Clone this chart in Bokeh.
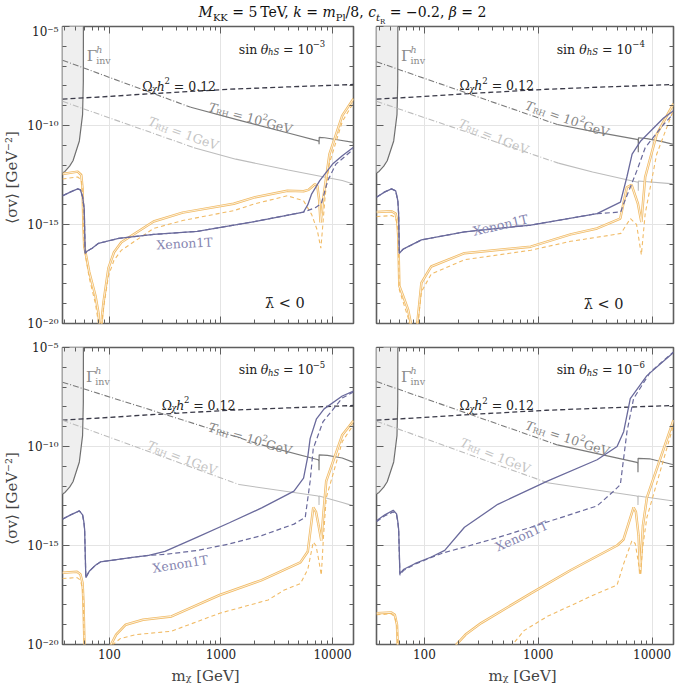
import math
import numpy as np
from bokeh.plotting import figure
from bokeh.models import FixedTicker, LogAxis, CustomJSTickFormatter, Div
from bokeh.layouts import column, row
from bokeh.embed import file_html
from bokeh.resources import INLINE
from bokeh.core.properties import value

# ---------------- data (masses in GeV, cross sections as log10 of <sigma v> in GeV^-2) -------------
XMIN, XMAX = 38.0, 15400.0
YMIN, YMAX = 1e-20, 1e-5

X_TICKS = [100, 1000, 10000]
X_TICK_LABELS = ["100", "1000", "10000"]
X_MINOR = [40, 50, 60, 70, 80, 90, 200, 300, 400, 500, 600, 700, 800, 900,
           2000, 3000, 4000, 5000, 6000, 7000, 8000, 9000]
Y_TICK_EXPS = [-20, -15, -10, -5]
Y_TICK_LABELS = ["10⁻²⁰", "10⁻¹⁵", "10⁻¹⁰", "10⁻⁵"]
Y_MINOR_EXPS = [-19, -18, -17, -16, -14, -13, -12, -11, -9, -8, -7, -6]

SIN_EXPONENTS = ["−3", "−4", "−5", "−6"]

OMEGA_M = [38, 100, 225, 1183, 4000, 15400]
OMEGA_LOG = [-8.67, -8.53, -8.4, -8.17, -8.05, -7.93]

GAMMA_M = [38, 40, 44, 47.2, 53.8, 57.5, 58.4, 58.5]
GAMMA_LOG = [-12.4, -12.32, -12.05, -11.78, -10.78, -9.45, -7.78, -4.9]

# panel 1 : sin theta = 1e-3
P1_TRH100_DD_M = [38, 536]
P1_TRH100_DD_LOG = [-6.7, -9.08]
P1_TRH100_M = [536, 1500, 4000, 7430, 7560, 7570, 7590, 8500, 11000, 15400]
P1_TRH100_LOG = [-9.08, -9.75, -10.38, -10.78, -10.8, -10.95, -10.6, -10.62, -10.72, -10.85]
P1_TRH1_DD_M = [38, 573]
P1_TRH1_DD_LOG = [-8.78, -11.12]
P1_TRH1_M = [573, 1358, 4000, 12200, 15400]
P1_TRH1_LOG = [-11.12, -11.7, -12.25, -12.78, -12.95]
P1_XE_M = [38, 45, 52, 55, 57.5, 59.5, 60.7, 63, 70, 80, 92, 121, 250, 612, 2000, 5495, 6000, 6500, 7674, 10000, 12218, 15400]
P1_XE_LOG = [-13.55, -13.35, -13.2, -13.25, -13.6, -14.2, -16.45, -16.35, -16.2, -15.95, -15.87, -15.7, -15.5, -15.35, -14.85, -14.37, -14.0, -13.45, -12.78, -11.95, -11.53, -11.1]
P1_XED_M = [38, 45, 52, 55, 57.5, 59.5, 60.7, 63, 70, 80, 92, 121, 250, 612, 2000, 5495, 7000, 7925, 9057, 10715, 15400]
P1_XED_LOG = [-13.55, -13.35, -13.2, -13.25, -13.6, -14.2, -16.45, -16.35, -16.2, -15.95, -15.87, -15.7, -15.5, -15.35, -14.85, -14.37, -14.15, -13.95, -12.78, -11.95, -11.2]
P1_OR_M = [38, 52, 56, 57.5, 58.5, 59.5, 62, 66, 75, 80, 82.5, 83.5, 86, 88.7, 98, 110, 128, 249, 453, 1300, 2028, 3936, 5495, 6081, 6950, 7300, 7600, 7800, 8000, 8204, 9376, 12218, 15400]
P1_OR_LOG = [-12.45, -12.33, -12.5, -13.2, -15.0, -16.1, -16.6, -17.4, -18.6, -19.5, -21.0, -21.0, -19.6, -18.9, -17.2, -16.4, -15.9, -14.85, -14.4, -13.95, -13.62, -13.3, -13.32, -13.25, -12.97, -13.05, -13.8, -14.9, -14.4, -13.78, -11.45, -9.5, -8.65]
P1_ORD_M = [38, 52, 56, 57.5, 58.5, 59.5, 62, 66, 75, 80, 82, 83, 85.5, 88.7, 98, 110, 128, 249, 453, 1300, 2028, 3936, 5495, 6500, 7300, 7850, 8100, 8600, 9376, 12218, 15400]
P1_ORD_LOG = [-12.7, -12.6, -12.75, -13.4, -15.1, -16.2, -16.8, -17.7, -19.0, -20.0, -21.0, -21.0, -20.0, -19.2, -17.6, -16.8, -16.3, -15.2, -14.8, -14.3, -13.95, -13.55, -13.8, -14.5, -15.3, -16.2, -15.3, -13.5, -11.9, -9.8, -8.85]

# panel 2 : sin theta = 1e-4
P2_TRH100_DD_M = [38, 1472]
P2_TRH100_DD_LOG = [-6.78, -9.95]
P2_TRH100_M = [1472, 3000, 7345, 7550, 7560, 7580, 9000, 12000, 15400]
P2_TRH100_LOG = [-9.95, -10.3, -10.7, -10.75, -11.35, -10.62, -10.66, -10.8, -10.95]
P2_TRH1_DD_M = [38, 1500]
P2_TRH1_DD_LOG = [-8.78, -11.9]
P2_TRH1_M = [1500, 3000, 7345, 7550, 7560, 7580, 15400]
P2_TRH1_LOG = [-11.9, -12.35, -12.85, -12.87, -13.3, -12.8, -12.95]
P2_XE_M = [38, 45, 51.5, 56, 58.5, 59.5, 60.3, 65, 71.9, 94.2, 225, 859, 3281, 5270, 6000, 6670, 7940, 12590, 15400]
P2_XE_LOG = [-13.62, -13.35, -13.2, -13.3, -13.8, -14.5, -16.45, -16.25, -16.12, -15.78, -15.37, -15.03, -14.45, -13.87, -12.6, -11.45, -10.78, -9.62, -9.25]
P2_XED_M = [38, 45, 51.5, 56, 58.5, 59.5, 60.3, 65, 71.9, 94.2, 225, 859, 3281, 5300, 5623, 6427, 7345, 8690, 12590, 15400]
P2_XED_LOG = [-13.62, -13.35, -13.2, -13.3, -13.8, -14.5, -16.45, -16.25, -16.12, -15.78, -15.37, -15.03, -14.45, -14.37, -13.95, -13.12, -12.28, -11.12, -9.95, -9.4]
P2_OR_M = [38, 51.5, 56, 58, 59, 60.3, 65, 72, 78, 81, 82.5, 86, 94.2, 115, 225, 859, 1923, 3281, 5250, 6000, 6600, 7500, 8040, 8690, 10960, 15400]
P2_OR_LOG = [-14.37, -14.33, -14.45, -14.9, -15.6, -18.1, -18.6, -19.3, -20.3, -21.0, -21.0, -20.2, -17.95, -17.12, -16.45, -16.12, -15.5, -15.2, -14.7, -13.12, -13.0, -13.95, -14.87, -12.6, -10.45, -8.9]
P2_ORD_M = [38, 51.5, 56, 58, 59, 60.3, 65, 72, 78, 81, 82.5, 86, 94.2, 115, 225, 859, 1923, 4400, 5320, 6450, 7300, 8040, 8690, 10960, 15400]
P2_ORD_LOG = [-14.6, -14.55, -14.65, -15.1, -15.8, -18.3, -18.9, -19.7, -20.7, -21.2, -21.2, -20.5, -18.4, -17.5, -16.78, -16.3, -15.85, -15.53, -15.45, -14.7, -15.0, -16.53, -14.45, -11.45, -9.2]

# panel 3 : sin theta = 1e-5
P3_TRH100_DD_M = [38, 2317]
P3_TRH100_DD_LOG = [-6.75, -9.92]
P3_TRH100_M = [2317, 7430, 7550, 7560, 7580, 9000, 12200, 15400]
P3_TRH100_LOG = [-9.92, -10.67, -10.72, -11.2, -10.42, -10.45, -10.58, -10.8]
P3_TRH1_DD_M = [38, 1452]
P3_TRH1_DD_LOG = [-8.67, -11.92]
P3_TRH1_M = [1452, 7430, 7550, 7560, 7580, 12200, 15400]
P3_TRH1_LOG = [-11.92, -12.5, -12.55, -12.95, -12.5, -12.83, -13.0]
P3_XE_M = [38, 45, 53.8, 57.5, 59, 60, 61.5, 66, 75, 83, 161, 225, 315, 600, 1189, 2317, 4508, 5495, 6000, 6295, 7178, 8400, 12218, 15400]
P3_XE_LOG = [-13.67, -13.45, -13.25, -13.45, -13.8, -14.2, -16.62, -16.3, -16.0, -15.83, -15.6, -15.5, -15.3, -14.6, -13.85, -13.1, -12.25, -11.6, -10.5, -9.6, -8.6, -8.1, -7.45, -7.2]
P3_XED_M = [38, 45, 53.8, 57.5, 59, 60, 61.5, 66, 75, 83, 161, 225, 315, 612, 1189, 2317, 4508, 5689, 6295, 6714, 8204, 12218, 15400]
P3_XED_LOG = [-13.67, -13.45, -13.25, -13.45, -13.8, -14.2, -16.62, -16.3, -16.0, -15.83, -15.6, -15.5, -15.45, -15.25, -14.92, -14.5, -13.92, -13.58, -11.75, -10.1, -8.75, -7.55, -7.25]
P3_OR_M = [38, 51.3, 55, 57.5, 58.5, 59.5, 60.5, 100, 103.5, 115, 140, 200, 360, 975, 2317, 5152, 6000, 6714, 7100, 7500, 7925, 8300, 8770, 12218, 15400]
P3_OR_LOG = [-16.38, -16.33, -16.45, -16.9, -17.8, -19.5, -21.5, -21.5, -20.0, -19.5, -19.0, -18.75, -18.58, -17.5, -16.75, -15.85, -15.3, -13.08, -13.3, -14.0, -14.75, -13.3, -11.75, -9.42, -8.7]
P3_ORD_M = [38, 51.3, 55, 57.5, 58.5, 59.5, 60.5, 104, 108, 125, 173, 359, 975, 2650, 3690, 5152, 6000, 6714, 7100, 7500, 7925, 8300, 8770, 12218, 15400]
P3_ORD_LOG = [-16.67, -16.62, -16.75, -17.2, -18.1, -19.8, -21.5, -21.5, -20.0, -19.7, -19.5, -19.33, -18.42, -17.75, -17.25, -16.92, -16.2, -14.83, -15.0, -15.7, -16.5, -14.5, -12.6, -9.75, -8.9]

# panel 4 : sin theta = 1e-6
P4_TRH100_DD_M = [38, 1472]
P4_TRH100_DD_LOG = [-6.72, -9.92]
P4_TRH100_M = [1472, 7345, 7500, 7510, 7530, 9500, 15400]
P4_TRH100_LOG = [-9.92, -10.8, -10.85, -11.3, -10.6, -10.62, -10.92]
P4_TRH1_DD_M = [38, 1202]
P4_TRH1_DD_LOG = [-8.72, -11.83]
P4_TRH1_M = [1202, 7345, 7500, 7510, 7530, 15400]
P4_TRH1_LOG = [-11.83, -12.5, -12.55, -12.95, -12.5, -12.75]
P4_XE_M = [38, 45, 53.3, 57, 58.5, 59.5, 61, 66, 82.4, 115, 151, 225, 441, 1202, 3289, 4920, 5623, 6427, 8995, 15400]
P4_XE_LOG = [-13.75, -13.45, -13.22, -13.4, -13.8, -14.2, -16.42, -16.2, -15.92, -15.58, -15.25, -14.08, -12.92, -11.75, -10.67, -10.0, -9.25, -7.58, -6.42, -5.25]
P4_XED_M = [38, 45, 53.3, 57, 58.5, 59.5, 61, 66, 82.4, 115, 151, 225, 441, 861, 3289, 4603, 5260, 6012, 6871, 9616, 15400]
P4_XED_LOG = [-13.8, -13.5, -13.3, -13.45, -13.85, -14.25, -16.5, -16.25, -15.95, -15.6, -15.35, -15.08, -14.6, -14.08, -13.0, -12.25, -11.92, -9.25, -7.58, -6.25, -5.22]
P4_OR_M = [38, 51.3, 55, 57.5, 58.2, 58.9, 185, 191, 230, 315, 861, 1923, 4920, 5600, 6871, 7200, 7600, 7852, 8300, 8995, 15400]
P4_OR_LOG = [-18.42, -18.38, -18.5, -19.0, -19.8, -21.5, -21.5, -20.0, -19.5, -18.92, -17.42, -16.25, -15.0, -14.7, -13.08, -13.3, -14.5, -16.42, -14.0, -12.58, -8.67]
P4_ORD_M = [38, 51.3, 55, 57.5, 58.2, 59, 590, 596, 750, 1202, 3289, 4920, 5623, 6653, 7100, 7500, 7852, 8300, 8995, 15400]
P4_ORD_LOG = [-18.5, -18.45, -18.6, -19.1, -19.9, -21.5, -21.5, -20.0, -19.3, -18.58, -17.42, -17.0, -15.92, -14.75, -14.9, -15.7, -16.5, -15.0, -13.58, -8.92]

# label anchor positions (mass GeV, log10 sigma, angle deg)
GAMMA_LABEL = [(62.8, -6.5), (62.3, -6.5), (61.7, -6.5), (62.3, -6.5)]
SIN_LABEL = [(1445, -6.15), (1452, -6.15), (1445, -6.12), (1452, -6.12)]
OMEGA_LABEL = [(197, -8.03), (203, -7.98), (294, -7.92), (203, -7.95)]
TRH100_LABEL = [(778, -9.05, -15), (778, -8.95, -19), (778, -9.0, -16), (778, -8.9, -18)]
TRH1_LABEL = [(225, -9.75, -20), (202, -9.85, -22), (221, -9.9, -21), (210, -9.75, -22)]
XENON_LABEL = [(264, -16.03, 3), (268, -15.35, 13), (244, -16.15, 9), (426, -15.1, 24)]
LAMBDA_LABEL = [(2478, -18.95), (2512, -19.0), None, None]

PANELS = [
    dict(trh100_dd=(P1_TRH100_DD_M, P1_TRH100_DD_LOG), trh100=(P1_TRH100_M, P1_TRH100_LOG),
         trh1_dd=(P1_TRH1_DD_M, P1_TRH1_DD_LOG), trh1=(P1_TRH1_M, P1_TRH1_LOG),
         xe=(P1_XE_M, P1_XE_LOG), xed=(P1_XED_M, P1_XED_LOG),
         orr=(P1_OR_M, P1_OR_LOG), ord=(P1_ORD_M, P1_ORD_LOG)),
    dict(trh100_dd=(P2_TRH100_DD_M, P2_TRH100_DD_LOG), trh100=(P2_TRH100_M, P2_TRH100_LOG),
         trh1_dd=(P2_TRH1_DD_M, P2_TRH1_DD_LOG), trh1=(P2_TRH1_M, P2_TRH1_LOG),
         xe=(P2_XE_M, P2_XE_LOG), xed=(P2_XED_M, P2_XED_LOG),
         orr=(P2_OR_M, P2_OR_LOG), ord=(P2_ORD_M, P2_ORD_LOG)),
    dict(trh100_dd=(P3_TRH100_DD_M, P3_TRH100_DD_LOG), trh100=(P3_TRH100_M, P3_TRH100_LOG),
         trh1_dd=(P3_TRH1_DD_M, P3_TRH1_DD_LOG), trh1=(P3_TRH1_M, P3_TRH1_LOG),
         xe=(P3_XE_M, P3_XE_LOG), xed=(P3_XED_M, P3_XED_LOG),
         orr=(P3_OR_M, P3_OR_LOG), ord=(P3_ORD_M, P3_ORD_LOG)),
    dict(trh100_dd=(P4_TRH100_DD_M, P4_TRH100_DD_LOG), trh100=(P4_TRH100_M, P4_TRH100_LOG),
         trh1_dd=(P4_TRH1_DD_M, P4_TRH1_DD_LOG), trh1=(P4_TRH1_M, P4_TRH1_LOG),
         xe=(P4_XE_M, P4_XE_LOG), xed=(P4_XED_M, P4_XED_LOG),
         orr=(P4_OR_M, P4_OR_LOG), ord=(P4_ORD_M, P4_ORD_LOG)),
]

# ---------------- style ----------------
FONT = "DejaVu Serif"
PURPLE = "#6a6a9c"
ORANGE = "#f1bb66"
ORANGE_CORE = "#fdf5e8"
TRH100_C = "#7a7a7a"
TRH1_C = "#bcbcbc"
OMEGA_C = "#3a3a48"
FRAME_C = "#5e5e5e"

# approximate DejaVu Serif advance widths (per 1000 em)
CW = {' ': 318, 's': 513, 'i': 320, 'n': 645, 'v': 592, 'h': 645, 'S': 686, '=': 838,
      '0': 636, '1': 636, '2': 636, '3': 636, '4': 636, '5': 636, '6': 636, '−': 838,
      '.': 318, 'G': 775, 'e': 592, 'V': 722, 'T': 668, 'R': 770, 'H': 872, 'X': 722,
      'o': 602, 'Ω': 783, 'χ': 592, 'θ': 602, 'Γ': 637, 'λ': 592, '<': 838, '\u0304': 0}


def tw(s, size):
    return sum(CW.get(c, 600) for c in s) * size / 1000.0


def sig(lst):
    return 10.0 ** np.array(lst, dtype=float)


def put_text(p, fw, fh, x0, y0, pieces, angle_deg=0.0, color="#222222"):
    """pieces: (text, size, style, dy_px, advance). Leading spaces are turned into
    cursor advance because SVG collapses them."""
    a = math.radians(angle_deg)
    ppx = fw / math.log10(XMAX / XMIN)
    ppy = fh / 15.0
    cur = 0.0
    for txt, size, style, dy, adv in pieces:
        stripped = txt.lstrip(" ")
        cur += tw(txt[:len(txt) - len(stripped)], size)
        ox = cur * math.cos(a) - dy * math.sin(a)
        oy = cur * math.sin(a) + dy * math.cos(a)
        x = x0 * 10 ** (ox / ppx)
        y = 10 ** (y0 + oy / ppy)
        p.text(x=[x], y=[y], text=[stripped.rstrip(" ")], angle=a, text_font=value(FONT),
               text_font_size=f"{size}px", text_font_style=style, text_color=color,
               text_baseline="alphabetic", text_align="left")
        if adv:
            cur += tw(stripped, size)


def empty_fmt():
    return CustomJSTickFormatter(code="return '';")


def x_fmt():
    return CustomJSTickFormatter(args=dict(labels=dict(zip([str(t) for t in X_TICKS], X_TICK_LABELS))),
                                 code="const k = String(Math.round(tick)); return (k in labels) ? labels[k] : '';")


def y_fmt():
    return CustomJSTickFormatter(args=dict(labels=dict(zip([str(e) for e in Y_TICK_EXPS], Y_TICK_LABELS))),
                                 code="const k = String(Math.round(Math.log10(tick))); return (k in labels) ? labels[k] : '';")


def style_axis(ax, labels, font_size="12px"):
    ax.axis_line_color = None
    ax.major_tick_in = 7
    ax.major_tick_out = 0
    ax.minor_tick_in = 4
    ax.minor_tick_out = 0
    ax.major_tick_line_color = FRAME_C
    ax.minor_tick_line_color = FRAME_C
    ax.major_tick_line_width = 1
    ax.minor_tick_line_width = 1
    if labels is None:
        ax.formatter = empty_fmt()
        ax.major_label_text_font_size = "0px"
        ax.major_label_standoff = 0
    else:
        ax.formatter = labels
        ax.major_label_text_font = FONT
        ax.major_label_text_font_size = font_size
        ax.major_label_text_color = "#222222"
        ax.major_label_standoff = 4


FRAME_W = [298, 297]
FRAME_H = 297


def make_panel(idx, show_x, show_y, width, height, bl, br, bt, bb):
    d = PANELS[idx]
    fw = FRAME_W[idx % 2]
    fh = FRAME_H
    p = figure(width=width, height=height, x_axis_type="log", y_axis_type="log",
               x_range=(XMIN, XMAX), y_range=(YMIN, YMAX), output_backend="svg",
               toolbar_location=None, min_border_left=bl, min_border_right=br,
               min_border_top=bt, min_border_bottom=bb)
    p.outline_line_color = FRAME_C
    p.outline_line_width = 1.6
    p.background_fill_color = "white"
    p.border_fill_color = "white"

    xt = FixedTicker(ticks=X_TICKS, minor_ticks=X_MINOR)
    yt = FixedTicker(ticks=[10.0 ** e for e in Y_TICK_EXPS], minor_ticks=[10.0 ** e for e in Y_MINOR_EXPS])
    p.xaxis[0].ticker = xt
    p.yaxis[0].ticker = yt
    style_axis(p.xaxis[0], x_fmt() if show_x else None)
    style_axis(p.yaxis[0], y_fmt() if show_y else None)
    if show_x:
        p.xaxis[0].axis_label = "mᵪ  [GeV]"
        p.xaxis[0].axis_label_text_font = FONT
        p.xaxis[0].axis_label_text_font_size = "15px"
        p.xaxis[0].axis_label_text_font_style = "normal"
        p.xaxis[0].axis_label_standoff = 5
    if show_y:
        p.yaxis[0].axis_label = "⟨σv⟩  [GeV⁻²]"
        p.yaxis[0].axis_label_text_font = FONT
        p.yaxis[0].axis_label_text_font_size = "15px"
        p.yaxis[0].axis_label_text_font_style = "normal"
        p.yaxis[0].axis_label_standoff = 3
    top = LogAxis(ticker=xt)
    style_axis(top, None)
    p.add_layout(top, "above")
    right = LogAxis(ticker=yt)
    style_axis(right, None)
    p.add_layout(right, "right")

    p.xgrid[0].ticker = FixedTicker(ticks=X_TICKS)
    p.ygrid[0].ticker = FixedTicker(ticks=[1e-15, 1e-10])
    p.xgrid[0].grid_line_color = "#e4e4e4"
    p.ygrid[0].grid_line_color = "#e4e4e4"

    # invisible-Higgs-width excluded region
    p.harea(y=sig(GAMMA_LOG), x1=[30.0] * len(GAMMA_M), x2=GAMMA_M, fill_color="#efefef")
    p.line(GAMMA_M, sig(GAMMA_LOG), line_color="#707070", line_width=1.2)

    # relic abundance
    p.line(OMEGA_M, sig(OMEGA_LOG), line_color=OMEGA_C, line_width=1.3, line_dash="5 3")

    # reheating temperatures
    m, l = d["trh1_dd"]
    p.line(m, sig(l), line_color=TRH1_C, line_width=1.1, line_dash="6 2 1 2")
    m, l = d["trh1"]
    p.line(m, sig(l), line_color=TRH1_C, line_width=1.1)
    m, l = d["trh100_dd"]
    p.line(m, sig(l), line_color=TRH100_C, line_width=1.1, line_dash="6 2 1 2")
    m, l = d["trh100"]
    p.line(m, sig(l), line_color=TRH100_C, line_width=1.2)

    # annihilation cross sections (orange): double-edged solid, dashed
    m, l = d["orr"]
    p.line(m, sig(l), line_color=ORANGE, line_width=2.5)
    p.line(m, sig(l), line_color=ORANGE_CORE, line_width=0.9)
    m, l = d["ord"]
    p.line(m, sig(l), line_color=ORANGE, line_width=1.1, line_dash="4 3")

    # Xenon1T
    m, l = d["xe"]
    p.line(m, sig(l), line_color=PURPLE, line_width=1.3)
    m, l = d["xed"]
    p.line(m, sig(l), line_color=PURPLE, line_width=1.2, line_dash="5 3")

    # labels
    gx, gy = GAMMA_LABEL[idx]
    put_text(p, fw, fh, gx, gy, [("Γ", 15, "normal", 0, True),
                                 ("h", 9.5, "italic", 7, False),
                                 ("inv", 9.5, "normal", -4, True)], color="#8a8a8a")
    sx, sy = SIN_LABEL[idx]
    put_text(p, fw, fh, sx, sy, [("sin ", 12.5, "normal", 0, True),
                                 ("θ", 12.5, "italic", 0, True),
                                 ("hS", 8.5, "italic", -3, True),
                                 (" = 10", 12.5, "normal", 0, True),
                                 (SIN_EXPONENTS[idx], 8.5, "normal", 5.5, True)])
    ox, oy = OMEGA_LABEL[idx]
    put_text(p, fw, fh, ox, oy, [("Ω", 12.5, "normal", 0, True),
                                 ("χ", 8.5, "italic", -3, True),
                                 ("h", 12.5, "italic", 0, True),
                                 ("2", 8.5, "normal", 5.5, True),
                                 (" = 0.12", 12.5, "normal", 0, True)])
    tx, ty, ta = TRH100_LABEL[idx]
    put_text(p, fw, fh, tx, ty, [("T", 12.5, "italic", 0, True),
                                 ("RH", 8, "normal", -3, True),
                                 (" = 10", 12.5, "normal", 0, True),
                                 ("2", 8.5, "normal", 5.5, True),
                                 ("GeV", 12.5, "normal", 0, True)], angle_deg=ta, color="#858585")
    tx, ty, ta = TRH1_LABEL[idx]
    put_text(p, fw, fh, tx, ty, [("T", 12.5, "italic", 0, True),
                                 ("RH", 8, "normal", -3, True),
                                 (" = 1GeV", 12.5, "normal", 0, True)], angle_deg=ta, color="#c4c4c4")
    xx, xy, xa = XENON_LABEL[idx]
    put_text(p, fw, fh, xx, xy, [("Xenon1T", 12.5, "normal", 0, True)], angle_deg=xa, color="#8585b0")
    if LAMBDA_LABEL[idx] is not None:
        lx, ly = LAMBDA_LABEL[idx]
        put_text(p, fw, fh, lx, ly, [("λ\u0304 < 0", 14.5, "normal", 0, True)])
    return p


# left column: border L 55, frame 298, R 11  -> 364 ; right column: L 12, frame 297, R 2 -> 311
p1 = make_panel(0, False, True, 364, 311, 55, 11, 2, 12)
p2 = make_panel(1, False, False, 311, 311, 12, 2, 2, 12)
p3 = make_panel(2, True, True, 364, 355, 55, 11, 12, 46)
p4 = make_panel(3, True, False, 311, 355, 12, 2, 12, 46)

title_html = ("<div style=\"width:675px;text-align:center;font-family:'DejaVu Serif',serif;"
              "font-size:14px;line-height:14px;white-space:nowrap;color:#111;\">"
              "<i>M</i><sub style='font-size:10px'>KK</sub> = 5&#8201;TeV, "
              "<i>k</i> = <i>m</i><sub style='font-size:10px'>Pl</sub>/8, "
              "<i>c</i><sub style='font-size:10px'><i>t</i><sub style='font-size:7px'>R</sub></sub> = −0.2, "
              "<i>β</i> = 2</div>")
title = Div(text=title_html, width=675, height=14)

layout = column(title, row(p1, p2), row(p3, p4))

open("out.html", "w").write(file_html(layout, INLINE))
